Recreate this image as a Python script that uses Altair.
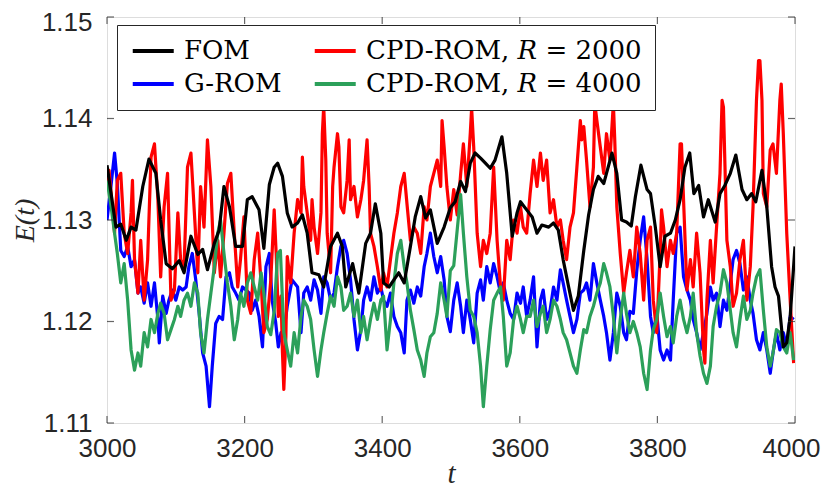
import altair as alt
import pandas as pd

# ---------------- data ----------------
t_fom = [3000,3013,3020,3028,3035,3042,3052,3061,3071,3078,3086,3095,3105,3112,3122,3132,3139,3146,3156,3163,
         3170,3178,3187,3197,3204,3211,3221,3228,3236,3243,3248,3255,3262,3269,3277,3284,3291,3298,3308,3315,
         3325,3335,3342,3347,3357,3366,3376,3383,3390,3398,3402,3410,3417,3424,3432,3441,3448,3456,3463,3470,
         3480,3490,3499,3506,3514,3521,3528,3535,3543,3550,3557,3564,3574,3581,3589,3596,3601,3610,3618,3625,
         3632,3642,3649,3656,3663,3671,3678,3685,3693,3700,3707,3714,3722,3726,3734,3741,3748,3755,3762,3768,
         3776,3785,3790,3797,3804,3811,3819,3826,3833,3840,3847,3853,3860,3867,3874,3884,3891,3898,3906,3914,
         3923,3930,3937,3943,3952,3959,3966,3971,3976,3983,3988,3993,4000]
e_fom = [1.1354,1.1293,1.1296,1.1280,1.1293,1.1290,1.1333,1.1360,1.1346,1.1300,1.1257,1.1252,1.1260,1.1248,1.1284,1.1266,1.1271,1.1251,1.1277,1.1290,
         1.1333,1.1313,1.1274,1.1274,1.1320,1.1323,1.1310,1.1272,1.1335,1.1352,1.1356,1.1343,1.1307,1.1293,1.1297,1.1305,1.1287,1.1248,1.1246,1.1234,
         1.1274,1.1287,1.1274,1.1234,1.1257,1.1228,1.1277,1.1287,1.1316,1.1287,1.1238,1.1234,1.1241,1.1248,1.1238,1.1274,1.1303,1.1323,1.1302,1.1310,
         1.1277,1.1293,1.1312,1.1318,1.1338,1.1328,1.1356,1.1366,1.1361,1.1356,1.1351,1.1359,1.1382,1.1346,1.1284,1.1307,1.1318,1.1310,1.1303,1.1287,
         1.1295,1.1293,1.1297,1.1290,1.1261,1.1234,1.1211,1.1225,1.1270,1.1305,1.1330,1.1343,1.1336,1.1346,1.1366,1.1346,1.1300,1.1298,1.1294,1.1323,
         1.1354,1.1330,1.1326,1.1293,1.1254,1.1284,1.1287,1.1300,1.1320,1.1352,1.1366,1.1326,1.1334,1.1303,1.1320,1.1298,1.1326,1.1334,1.1346,1.1364,
         1.1330,1.1320,1.1326,1.1318,1.1349,1.1313,1.1254,1.1234,1.1225,1.1175,1.1179,1.1205,1.1274]

t_grom = [3000,3006,3011,3015,3020,3025,3030,3035,3040,3045,3049,3054,3059,3064,3069,3074,3076,3081,3086,3090,
          3095,3100,3105,3110,3115,3119,3124,3129,3134,3139,3144,3149,3153,3158,3163,3168,3173,3178,3182,3187,
          3192,3197,3202,3207,3211,3216,3221,3226,3231,3236,3240,3245,3249,3253,3257,3262,3269,3277,3282,3286,
          3291,3296,3301,3306,3311,3315,3320,3325,3330,3335,3340,3344,3349,3354,3359,3364,3369,3373,3378,3383,
          3388,3393,3398,3402,3407,3412,3417,3422,3427,3432,3436,3441,3446,3451,3456,3461,3465,3470,3475,3480,
          3485,3490,3494,3499,3504,3509,3514,3518,3523,3528,3533,3538,3543,3547,3552,3557,3562,3567,3572,3576,
          3581,3586,3591,3596,3601,3605,3610,3615,3620,3625,3630,3634,3639,3644,3649,3654,3659,3663,3668,3673,
          3678,3683,3688,3693,3697,3702,3707,3712,3717,3722,3726,3731,3736,3741,3746,3751,3755,3760,3765,3770,
          3775,3780,3785,3790,3794,3799,3804,3809,3814,3819,3823,3828,3833,3838,3843,3848,3852,3857,3862,3867,
          3872,3877,3881,3886,3891,3896,3901,3906,3910,3915,3920,3925,3930,3935,3939,3944,3949,3954,3959,3964,
          3968,3973,3978,3983,3988,3993,3998]
e_grom = [1.1300,1.1335,1.1366,1.1336,1.1270,1.1264,1.1274,1.1254,1.1261,1.1228,1.1234,1.1218,1.1238,1.1215,1.1238,1.1202,1.1179,1.1225,1.1208,1.1221,
          1.1231,1.1221,1.1234,1.1231,1.1234,1.1254,1.1267,1.1241,1.1208,1.1169,1.1156,1.1116,1.1156,1.1198,1.1205,1.1202,1.1244,1.1248,1.1234,1.1228,
          1.1221,1.1234,1.1231,1.1228,1.1211,1.1221,1.1205,1.1175,1.1254,1.1267,1.1221,1.1200,1.1175,1.1189,1.1189,1.1215,1.1241,1.1234,1.1189,1.1228,
          1.1234,1.1221,1.1241,1.1231,1.1208,1.1244,1.1238,1.1221,1.1228,1.1254,1.1274,1.1280,1.1267,1.1241,1.1202,1.1172,1.1192,1.1221,1.1234,1.1221,
          1.1244,1.1228,1.1234,1.1221,1.1215,1.1228,1.1205,1.1195,1.1189,1.1169,1.1221,1.1231,1.1218,1.1234,1.1225,1.1254,1.1267,1.1287,1.1264,1.1248,
          1.1264,1.1241,1.1205,1.1190,1.1221,1.1238,1.1215,1.1189,1.1221,1.1202,1.1179,1.1228,1.1241,1.1221,1.1254,1.1238,1.1257,1.1244,1.1228,1.1238,
          1.1221,1.1208,1.1202,1.1228,1.1218,1.1234,1.1205,1.1221,1.1244,1.1175,1.1221,1.1231,1.1202,1.1211,1.1234,1.1221,1.1251,1.1238,1.1221,1.1205,
          1.1189,1.1202,1.1228,1.1231,1.1238,1.1221,1.1257,1.1238,1.1221,1.1205,1.1189,1.1162,1.1189,1.1228,1.1215,1.1189,1.1182,1.1210,1.1208,1.1250,
          1.1280,1.1303,1.1261,1.1205,1.1189,1.1208,1.1172,1.1162,1.1172,1.1162,1.1221,1.1287,1.1293,1.1244,1.1231,1.1221,1.1202,1.1189,1.1172,1.1189,
          1.1208,1.1234,1.1221,1.1228,1.1195,1.1221,1.1211,1.1238,1.1261,1.1270,1.1257,1.1231,1.1244,1.1221,1.1208,1.1182,1.1172,1.1189,1.1172,1.1149,
          1.1169,1.1189,1.1172,1.1189,1.1175,1.1205,1.1202]

t_r2000 = [3000,3003,3011,3015,3020,3025,3030,3035,3037,3040,3045,3049,3054,3059,3064,3069,3074,3078,3083,3088,
           3093,3098,3103,3107,3112,3117,3122,3127,3132,3136,3141,3146,3151,3156,3161,3165,3170,3175,3180,3185,
           3190,3194,3199,3204,3209,3214,3219,3224,3228,3233,3238,3243,3246,3249,3253,3255,3257,3260,3262,3267,
           3272,3277,3282,3284,3286,3291,3296,3298,3301,3306,3311,3313,3315,3318,3320,3325,3328,3330,3335,3337,
           3340,3344,3349,3352,3354,3359,3364,3369,3373,3378,3381,3383,3388,3393,3398,3402,3407,3412,3417,3422,
           3427,3432,3436,3441,3446,3451,3456,3461,3465,3470,3475,3480,3485,3487,3490,3494,3499,3504,3509,3514,
           3518,3523,3528,3530,3533,3538,3543,3547,3552,3557,3562,3567,3572,3576,3581,3586,3591,3596,3601,3605,
           3610,3615,3620,3625,3630,3634,3639,3644,3649,3654,3659,3663,3668,3673,3678,3683,3688,3690,3693,3697,
           3702,3707,3709,3712,3717,3722,3726,3731,3736,3738,3741,3746,3751,3755,3760,3765,3770,3775,3780,3785,
           3790,3794,3799,3804,3806,3809,3814,3819,3823,3828,3833,3835,3838,3843,3848,3852,3857,3862,3867,3869,
           3872,3877,3881,3886,3891,3894,3896,3901,3906,3910,3915,3920,3925,3930,3935,3939,3944,3947,3949,3952,
           3954,3959,3964,3968,3973,3978,3980,3983,3988,3993,3998]
e_r2000 = [1.1333,1.1349,1.1287,1.1339,1.1346,1.1287,1.1267,1.1307,1.1339,1.1261,1.1228,1.1280,1.1221,1.1261,1.1362,1.1375,1.1320,1.1244,1.1313,1.1346,
           1.1221,1.1231,1.1307,1.1261,1.1254,1.1352,1.1366,1.1307,1.1248,1.1333,1.1293,1.1379,1.1333,1.1248,1.1280,1.1244,1.1287,1.1336,1.1346,1.1287,
           1.1234,1.1261,1.1303,1.1221,1.1208,1.1261,1.1287,1.1238,1.1189,1.1202,1.1240,1.1310,1.1265,1.1205,1.1225,1.1170,1.1133,1.1185,1.1264,1.1238,
           1.1287,1.1320,1.1307,1.1362,1.1333,1.1307,1.1280,1.1320,1.1293,1.1267,1.1307,1.1385,1.1412,1.1359,1.1287,1.1248,1.1333,1.1352,1.1385,1.1372,
           1.1313,1.1307,1.1339,1.1379,1.1320,1.1333,1.1303,1.1320,1.1339,1.1379,1.1333,1.1287,1.1274,1.1254,1.1231,1.1248,1.1234,1.1261,1.1287,1.1307,
           1.1333,1.1346,1.1316,1.1280,1.1293,1.1287,1.1267,1.1313,1.1300,1.1333,1.1346,1.1359,1.1333,1.1398,1.1372,1.1333,1.1300,1.1330,1.1305,1.1345,
           1.1375,1.1333,1.1385,1.1410,1.1372,1.1287,1.1254,1.1280,1.1267,1.1287,1.1352,1.1280,1.1234,1.1221,1.1280,1.1261,1.1300,1.1287,1.1313,1.1293,
           1.1287,1.1326,1.1359,1.1333,1.1366,1.1339,1.1359,1.1307,1.1320,1.1293,1.1300,1.1280,1.1261,1.1293,1.1307,1.1352,1.1398,1.1379,1.1392,1.1359,
           1.1313,1.1352,1.1415,1.1398,1.1372,1.1346,1.1385,1.1359,1.1415,1.1379,1.1313,1.1267,1.1228,1.1248,1.1270,1.1244,1.1293,1.1267,1.1221,1.1280,
           1.1293,1.1221,1.1189,1.1267,1.1310,1.1293,1.1254,1.1280,1.1267,1.1287,1.1375,1.1375,1.1320,1.1231,1.1261,1.1234,1.1287,1.1248,1.1172,1.1159,
           1.1221,1.1280,1.1238,1.1293,1.1346,1.1418,1.1411,1.1280,1.1254,1.1215,1.1228,1.1261,1.1280,1.1221,1.1254,1.1313,1.1418,1.1457,1.1457,1.1418,
           1.1326,1.1313,1.1369,1.1375,1.1346,1.1418,1.1434,1.1385,1.1287,1.1221,1.1159]

t_r4000 = [3000,3006,3011,3015,3020,3025,3030,3035,3040,3045,3049,3054,3059,3064,3069,3074,3078,3083,3088,3093,
           3098,3103,3107,3112,3117,3122,3127,3132,3136,3141,3146,3151,3156,3161,3165,3170,3175,3180,3185,3190,
           3194,3199,3204,3209,3214,3219,3224,3228,3233,3238,3243,3248,3252,3257,3262,3267,3272,3277,3282,3286,
           3291,3296,3301,3306,3311,3315,3320,3325,3330,3335,3340,3344,3349,3354,3359,3364,3369,3373,3378,3383,
           3388,3393,3398,3402,3407,3412,3417,3422,3427,3432,3436,3441,3446,3451,3456,3461,3465,3470,3475,3480,
           3485,3490,3494,3499,3504,3509,3514,3518,3523,3528,3533,3538,3543,3547,3552,3557,3562,3567,3572,3576,
           3581,3586,3591,3596,3601,3605,3610,3615,3620,3625,3630,3634,3639,3644,3649,3654,3659,3663,3668,3673,
           3678,3683,3688,3693,3697,3702,3707,3712,3717,3722,3726,3731,3736,3741,3746,3751,3755,3760,3765,3770,
           3775,3780,3785,3790,3794,3799,3804,3809,3814,3819,3823,3828,3833,3838,3843,3848,3852,3857,3862,3867,
           3872,3877,3881,3886,3891,3896,3901,3906,3910,3915,3920,3925,3930,3935,3939,3944,3949,3954,3959,3964,
           3968,3973,3978,3983,3988,3993,3998]
e_r4000 = [1.1339,1.1313,1.1287,1.1267,1.1238,1.1257,1.1221,1.1172,1.1152,1.1169,1.1156,1.1189,1.1175,1.1202,1.1189,1.1208,1.1218,1.1208,1.1182,1.1192,
           1.1202,1.1215,1.1205,1.1221,1.1228,1.1215,1.1238,1.1228,1.1189,1.1169,1.1202,1.1228,1.1254,1.1287,1.1300,1.1267,1.1238,1.1215,1.1182,1.1202,
           1.1228,1.1215,1.1238,1.1248,1.1234,1.1221,1.1248,1.1228,1.1195,1.1187,1.1210,1.1267,1.1270,1.1189,1.1172,1.1156,1.1189,1.1169,1.1205,1.1221,
           1.1215,1.1202,1.1172,1.1146,1.1172,1.1189,1.1208,1.1225,1.1215,1.1244,1.1234,1.1211,1.1215,1.1228,1.1205,1.1221,1.1189,1.1205,1.1182,1.1202,
           1.1218,1.1202,1.1221,1.1225,1.1172,1.1202,1.1238,1.1267,1.1280,1.1254,1.1238,1.1211,1.1192,1.1172,1.1162,1.1146,1.1169,1.1185,1.1189,1.1208,
           1.1238,1.1221,1.1205,1.1250,1.1255,1.1290,1.1325,1.1287,1.1244,1.1211,1.1205,1.1189,1.1156,1.1116,1.1156,1.1192,1.1221,1.1228,1.1234,1.1205,
           1.1156,1.1169,1.1202,1.1215,1.1202,1.1189,1.1205,1.1205,1.1221,1.1195,1.1208,1.1215,1.1189,1.1202,1.1221,1.1215,1.1202,1.1189,1.1182,1.1169,
           1.1156,1.1149,1.1172,1.1192,1.1189,1.1205,1.1215,1.1228,1.1238,1.1257,1.1248,1.1234,1.1205,1.1169,1.1202,1.1228,1.1208,1.1189,1.1200,1.1189,
           1.1175,1.1149,1.1133,1.1172,1.1192,1.1202,1.1228,1.1205,1.1185,1.1195,1.1179,1.1205,1.1221,1.1202,1.1189,1.1205,1.1228,1.1189,1.1166,1.1149,
           1.1139,1.1156,1.1195,1.1215,1.1228,1.1251,1.1238,1.1211,1.1189,1.1175,1.1202,1.1225,1.1202,1.1211,1.1228,1.1244,1.1251,1.1211,1.1175,1.1156,
           1.1169,1.1192,1.1189,1.1175,1.1169,1.1189,1.1162]

tick_x = [3000, 3200, 3400, 3600, 3800, 4000]
tick_y = [1.11, 1.12, 1.13, 1.14, 1.15]

# legend order (column-major fill): FOM, G-ROM | CPD 2000, CPD 4000
names = ["FOM", "G-ROM", "CPD-ROM, 𝑅 = 2000", "CPD-ROM, 𝑅 = 4000"]
colors = ["#000000", "#0000FF", "#FF0000", "#2CA05A"]

frames = []
for name, tt, ee in [(names[0], t_fom, e_fom), (names[1], t_grom, e_grom),
                     (names[2], t_r2000, e_r2000), (names[3], t_r4000, e_r4000)]:
    frames.append(pd.DataFrame({"t": tt, "E": ee, "series": name}))
df = pd.concat(frames, ignore_index=True)

W, H = 688, 406
xscale = alt.Scale(domain=[3000, 4000], nice=False, zero=False)
yscale = alt.Scale(domain=[1.11, 1.15], nice=False, zero=False)
cscale = alt.Scale(domain=names, range=colors)

# keep the outermost labels inside the page (nudge by a few pixels)
x_label_offset = {"condition": {"test": "datum.value >= 4000", "value": -4}, "value": 0}
y_label_offset = {"condition": {"test": "datum.value >= 1.1499", "value": 5}, "value": 0}

x_axis = alt.Axis(values=tick_x, format="d", ticks=False, domain=False, grid=False,
                  labelFlush=False, labelOverlap=False, labelOffset=x_label_offset,
                  labelFont="Liberation Sans", labelFontSize=26, labelColor="#262626",
                  labelPadding=12, title="t", titleFont="Liberation Serif", titleFontStyle="italic",
                  titleFontWeight="normal", titleFontSize=29, titleColor="#262626",
                  titleX=344, titleY=65, titleBaseline="bottom")
y_axis = alt.Axis(values=tick_y, format=".2f", ticks=False, domain=False, grid=False,
                  labelFlush=False, labelOverlap=False, labelOffset=y_label_offset,
                  labelFont="Liberation Sans", labelFontSize=26, labelColor="#262626",
                  labelPadding=15, title="E(t)", titleFont="Liberation Serif", titleFontStyle="italic",
                  titleFontWeight="normal", titleFontSize=28, titleColor="#262626",
                  titleX=-82, titleY=203, titleAngle=-90, titleBaseline="middle", titleAlign="center")

legend = alt.Legend(title=None, orient="none", legendX=10, legendY=8, columns=2,
                    symbolType="M-1,0H3", symbolStrokeWidth=4, symbolSize=420,
                    labelFont="DejaVu Serif", labelFontSize=26, labelColor="#000000",
                    labelOffset=28, labelLimit=400, rowPadding=7, columnPadding=24,
                    padding=13, strokeColor="#262626", fillColor="#FFFFFF")

base = alt.Chart(df)

def series_layer(name):
    return base.transform_filter(alt.datum.series == name).mark_line(
        strokeWidth=3.2, clip=True, strokeJoin="round").encode(
        x=alt.X("t:Q", scale=xscale, axis=x_axis),
        y=alt.Y("E:Q", scale=yscale, axis=y_axis),
        color=alt.Color("series:N", scale=cscale, legend=legend, sort=names),
    )

layers = [series_layer(names[1]), series_layer(names[2]), series_layer(names[3]), series_layer(names[0])]

xt = pd.DataFrame({"tx": tick_x})
yt = pd.DataFrame({"ty": tick_y})
tick_style = dict(color="#262626", thickness=1.2, size=7)
ticks = [
    alt.Chart(xt).mark_tick(orient="vertical", **tick_style).encode(
        x=alt.X("tx:Q", scale=xscale, axis=x_axis), y=alt.value(H - 3.5)),
    alt.Chart(xt).mark_tick(orient="vertical", **tick_style).encode(
        x=alt.X("tx:Q", scale=xscale, axis=x_axis), y=alt.value(3.5)),
    alt.Chart(yt).mark_tick(orient="horizontal", **tick_style).encode(
        y=alt.Y("ty:Q", scale=yscale, axis=y_axis), x=alt.value(3.5)),
    alt.Chart(yt).mark_tick(orient="horizontal", **tick_style).encode(
        y=alt.Y("ty:Q", scale=yscale, axis=y_axis), x=alt.value(W - 3.5)),
]

chart = alt.layer(*layers, *ticks).properties(
    width=W, height=H, autosize="none",
    padding={"left": 99, "top": 9, "right": 27, "bottom": 66},
).configure_view(stroke="#262626", strokeWidth=1.2).configure(background="white")

chart.save("out.html", embed_options={"renderer": "svg", "actions": False})
